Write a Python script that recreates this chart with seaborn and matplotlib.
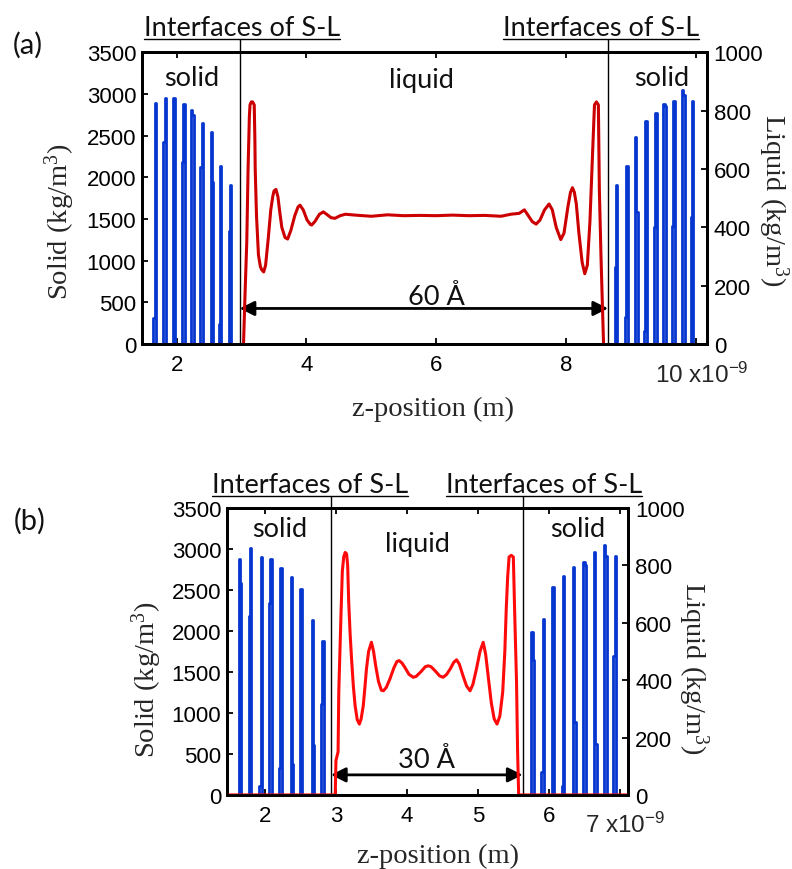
import numpy as np
import pandas as pd
import matplotlib
matplotlib.use("Agg")
import matplotlib.pyplot as plt
import seaborn as sns

sns.set_style("white")
plt.rcParams["font.family"] = ["Liberation Sans", "DejaVu Sans"]
plt.rcParams["mathtext.default"] = "regular"

# ---------------- data, panel (a) ----------------
a_solid_pos = [1.659, 1.813, 1.958, 2.103, 2.242, 2.385, 2.546, 2.666, 2.820,
               8.774, 8.931, 9.085, 9.223, 9.377, 9.520, 9.658, 9.812, 9.943]
a_solid_left = [310, 2430, 2950, 2190, 2810, 2130, 2540, 240, 1360,
                920, 330, 2480, 155, 1400, 2880, 1420, 3050, 1520]
a_solid_right = [2890, 2950, 2950, 2880, 2750, 2655, 1940, 2140, 1905,
                 1905, 2140, 1580, 2680, 2775, 2860, 2920, 2990, 2920]
a_liq_z = [3.03, 3.05, 3.08, 3.10, 3.12, 3.13, 3.15, 3.17, 3.195, 3.205,
           3.21, 3.23, 3.26, 3.29, 3.31, 3.34, 3.37, 3.41, 3.45, 3.48,
           3.50, 3.53, 3.56, 3.59, 3.62, 3.67, 3.71, 3.76, 3.82, 3.87,
           3.90, 3.95, 4.01, 4.06, 4.08, 4.13, 4.20, 4.26, 4.31, 4.38,
           4.44, 4.52, 4.60, 4.75, 5.00, 5.25, 5.50, 5.75, 6.00, 6.25,
           6.50, 6.75, 7.00, 7.15, 7.28, 7.36, 7.42, 7.48, 7.54, 7.60,
           7.67, 7.74, 7.79, 7.85, 7.92, 7.97, 8.03, 8.07, 8.10, 8.13,
           8.16, 8.20, 8.25, 8.29, 8.33, 8.37, 8.41, 8.44, 8.47, 8.50,
           8.515, 8.54, 8.56, 8.58]
a_liq_rho = [0, 150, 350, 600, 780, 820, 830, 830, 820, 700,
             600, 440, 305, 265, 255, 247, 270, 360, 460, 505,
             525, 530, 505, 450, 400, 365, 360, 390, 440, 470,
             476, 460, 425, 410, 408, 420, 445, 453, 445, 433,
             431, 440, 445, 442, 438, 443, 440, 441, 440, 442,
             440, 441, 438, 445, 448, 460, 440, 420, 411, 425,
             460, 480, 460, 400, 358, 380, 470, 520, 536, 520,
             480, 380, 280, 241, 270, 420, 650, 820, 830, 820,
             530, 304, 150, 0]
a_interfaces = [2.97, 8.65]
a_xlim = [1.46, 10.17]
a_xticks = [2, 4, 6, 8, 10]
a_xticklabels = ["2", "4", "6", "8", ""]
a_width_text = "60 Å"

# ---------------- data, panel (b) ----------------
b_solid_pos = [1.648, 1.789, 1.937, 2.077, 2.214, 2.380, 2.507, 2.676, 2.806,
               5.772, 5.913, 6.060, 6.200, 6.359, 6.507, 6.652, 6.796, 6.930]
b_solid_left = [2880, 2180, 115, 2340, 330, 2660, 2510, 2130, 1110,
                1990, 285, 2530, 115, 2780, 2845, 2960, 3050, 1690]
b_solid_right = [2585, 3010, 2900, 2880, 2770, 380, 2510, 610, 1880,
                 1640, 2140, 2530, 2675, 895, 2800, 620, 2920, 2920]
b_liq_z = [1.40, 2.99, 3.00, 3.03, 3.04, 3.07, 3.09, 3.11, 3.13, 3.15,
           3.165, 3.18, 3.20, 3.22, 3.245, 3.27, 3.30, 3.33, 3.355, 3.385,
           3.41, 3.43, 3.46, 3.50, 3.53, 3.56, 3.60, 3.64, 3.67, 3.71,
           3.76, 3.82, 3.86, 3.89, 3.93, 3.97, 4.03, 4.09, 4.13, 4.20,
           4.26, 4.30, 4.34, 4.40, 4.46, 4.51, 4.56, 4.61, 4.66, 4.70,
           4.74, 4.79, 4.84, 4.89, 4.93, 4.98, 5.03, 5.075, 5.11, 5.15,
           5.19, 5.23, 5.27, 5.31, 5.35, 5.38, 5.40, 5.42, 5.44, 5.47,
           5.50, 5.52, 5.545, 5.56, 5.575, 7.20]
b_liq_rho = [0, 0, 120, 150, 360, 620, 780, 830, 845, 840,
             800, 671, 560, 474, 380, 311, 262, 247, 265, 311,
             380, 439, 500, 532, 500, 450, 395, 365, 363, 375,
             404, 445, 465, 468, 460, 445, 420, 410, 413, 430,
             447, 450, 447, 432, 415, 410, 420, 439, 462, 471,
             455, 416, 380, 363, 385, 439, 500, 532, 490, 404,
             320, 265, 247, 275, 358, 500, 648, 760, 829, 835,
             829, 624, 393, 150, 0, 0]
b_interfaces = [2.93, 5.63]
b_xlim = [1.46, 7.12]
b_xticks = [2, 3, 4, 5, 6, 7]
b_xticklabels = ["2", "3", "4", "5", "6", ""]
b_width_text = "30 Å"

solid_ticks = [0, 500, 1000, 1500, 2000, 2500, 3000, 3500]
liquid_ticks = [0, 200, 400, 600, 800, 1000]

BLUE = "#0636D0"
RED_A = "#CC0000"
RED_B = "#FF0A0A"
BIN_W = 0.02

SANS = ["Liberation Sans", "DejaVu Sans"]
SERIF = ["Liberation Serif", "DejaVu Serif"]
CAL = ["Lato", "DejaVu Sans"]
TICK_FS = 16
LAB_FS = 20.5
CAL_FS = 19.5


def solid_profile(pos, hl, hr, xlim):
    xs, ys = [xlim[0] - 0.1], [0]
    for p, l, r in zip(pos, hl, hr):
        xs += [p - BIN_W, p - BIN_W, p, p, p + BIN_W, p + BIN_W]
        ys += [0, l, l, r, r, 0]
    xs.append(xlim[1] + 0.1)
    ys.append(0)
    return pd.DataFrame({"z": xs, "rho": ys})


W, H = 792, 870
fig = plt.figure(figsize=(W / 100, H / 100), dpi=100)


def panel(rect, pos, hl, hr, lz, lrho, red, xlim, xticks, xticklabels,
          interfaces, tx_int, solid_x, liquid_x, lab_y, liq_lab_y,
          arrow_y, wtext, wtext_x, wtext_y, mult_text, mult_pos, xlab_pos,
          ylab_pos, y2lab_pos, line_top, panel_label, panel_pos):
    ax = fig.add_axes(rect)
    ax2 = ax.twinx()
    sdf = solid_profile(pos, hl, hr, xlim)
    sns.lineplot(data=sdf, x="z", y="rho", ax=ax, estimator=None, sort=False,
                 color=BLUE, lw=2.0)
    ldf = pd.DataFrame({"z": lz, "rho": lrho})
    sns.lineplot(data=ldf, x="z", y="rho", ax=ax2, estimator=None, sort=False,
                 color=red, lw=2.2)
    ax.set_xlim(*xlim)
    ax.set_ylim(0, 3500)
    ax2.set_ylim(0, 1000)
    ax.set_xticks(xticks)
    ax.set_xticklabels(xticklabels)
    ax.set_yticks(solid_ticks)
    ax2.set_yticks(liquid_ticks)
    ax.set_xlabel("")
    ax.set_ylabel("")
    ax2.set_ylabel("")
    ax.xaxis.set_ticks_position("both")
    ax.tick_params(axis="both", direction="in", length=4, width=1.3,
                   labelsize=TICK_FS, pad=7, colors="k")
    ax.tick_params(axis="y", left=True, right=False, pad=4)
    ax2.tick_params(axis="y", direction="in", length=4, width=1.3,
                    labelsize=TICK_FS, pad=5, colors="k", right=True, left=False)
    for lab in ax.get_xticklabels() + ax.get_yticklabels() + ax2.get_yticklabels():
        lab.set_fontfamily(SANS)
    for a in (ax, ax2):
        for s in a.spines.values():
            s.set_color("k")
            s.set_linewidth(2.0)
    # interfaces
    ax.vlines(interfaces, 0, line_top, transform=ax.get_xaxis_transform(),
              colors="k", lw=1.0, clip_on=False, zorder=5)
    int_texts = []
    for xx in tx_int:
        t = ax.text(xx, line_top + 0.014, "Interfaces of S-L",
                    transform=ax.get_xaxis_transform(), ha="center",
                    va="baseline", fontsize=CAL_FS, family=CAL, color="#111111")
        int_texts.append(t)
    for xx in solid_x:
        ax.text(xx, lab_y, "solid", transform=ax.get_xaxis_transform(),
                ha="center", va="center", fontsize=CAL_FS, family=CAL,
                color="#111111")
    ax.text(liquid_x, liq_lab_y, "liquid", transform=ax.get_xaxis_transform(),
            ha="center", va="center", fontsize=CAL_FS, family=CAL, color="#111111")
    # width arrow
    ax.annotate("", xy=(interfaces[1], arrow_y), xytext=(interfaces[0], arrow_y),
                xycoords=ax.get_xaxis_transform(),
                textcoords=ax.get_xaxis_transform(),
                arrowprops=dict(arrowstyle="<|-|>", color="k", lw=2.0,
                                mutation_scale=22, shrinkA=0, shrinkB=0))
    ax.text(wtext_x, wtext_y, wtext, transform=ax.get_xaxis_transform(),
            ha="center", va="center", fontsize=CAL_FS, family=CAL, color="#111111")
    ax.text(mult_pos[0], mult_pos[1], mult_text, transform=ax.transAxes,
            ha="left", va="baseline", fontsize=17.5, family=SANS)
    ax.text(xlab_pos[0], xlab_pos[1], "z-position (m)", transform=ax.transAxes,
            ha="center", va="center", fontsize=LAB_FS, family=SERIF)
    ax.text(ylab_pos[0], ylab_pos[1], "Solid (kg/m$^3$)", transform=ax.transAxes,
            ha="center", va="center", rotation=90, fontsize=LAB_FS, family=SERIF)
    ax.text(y2lab_pos[0], y2lab_pos[1], "Liquid (kg/m$^3$)", transform=ax.transAxes,
            ha="center", va="center", rotation=270, fontsize=LAB_FS, family=SERIF)
    fig.text(panel_pos[0], panel_pos[1], panel_label, ha="center", va="center",
             fontsize=21, family=CAL, color="#111111")
    return ax, int_texts, line_top


ax_a, ta, lt_a = panel([0.1789, 0.6034, 0.7134, 0.3353], a_solid_pos, a_solid_left,
                       a_solid_right, a_liq_z, a_liq_rho, RED_A, a_xlim, a_xticks,
                       a_xticklabels, a_interfaces, [3.008, 8.538], [2.23, 9.477],
                       5.77, 0.914, 0.908, 0.122, a_width_text, 6.0, 0.164,
                       "10 x10$^{-9}$", (0.9085, -0.130), (0.515, -0.222),
                       (-0.145, 0.421), (1.118, 0.497), 1.045, "(a)", (0.035, 0.948))
ax_b, tb, lt_b = panel([0.2862, 0.0851, 0.5071, 0.3299], b_solid_pos, b_solid_left,
                       b_solid_right, b_liq_z, b_liq_rho, RED_B, b_xlim, b_xticks,
                       b_xticklabels, b_interfaces, [2.634, 5.93], [2.21, 6.41],
                       4.15, 0.927, 0.875, 0.07, b_width_text, 4.28, 0.125,
                       "7 x10$^{-9}$", (0.892, -0.129), (0.525, -0.212),
                       (-0.200, 0.404), (1.162, 0.446), 1.042, "(b)", (0.037, 0.401))

# underline the interface labels
fig.canvas.draw()
renderer = fig.canvas.get_renderer()
for ax, texts, lt in ((ax_a, ta, lt_a), (ax_b, tb, lt_b)):
    inv = ax.transData.inverted()
    for t in texts:
        bb = t.get_window_extent(renderer)
        x0 = inv.transform((bb.x0, 0))[0]
        x1 = inv.transform((bb.x1, 0))[0]
        ax.plot([x0, x1], [lt, lt], transform=ax.get_xaxis_transform(),
                color="k", lw=1.0, clip_on=False)

fig.savefig("out.png", dpi=100)
